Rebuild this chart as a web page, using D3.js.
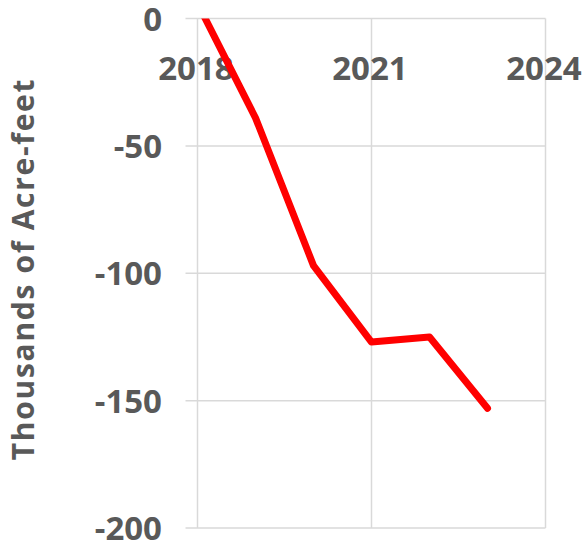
<!DOCTYPE html>
<html>
<head>
<meta charset="utf-8">
<script src="https://cdn.jsdelivr.net/npm/d3@7"></script>
<style>
  html, body { margin: 0; padding: 0; background: #fff; }
  svg { display: block; }
  text { font-family: "Open Sans", "Noto Sans", sans-serif; font-weight: 700; fill: #595959; }
</style>
</head>
<body>
<svg id="chart" width="585" height="546"></svg>
<script>
// Cumulative storage change by year (thousands of acre-feet)
const years = [2018, 2019, 2020, 2021, 2022, 2023];
const storageChange = [6, -39, -97, -127, -125, -153];
const xTicks = [2018, 2021, 2024];
const yTicks = [0, -50, -100, -150, -200];
const yTitle = "Thousands of Acre-feet";

const svg = d3.select("#chart");
const plot = { left: 197.5, right: 545.5, top: 18.5, bottom: 528 };

const x = d3.scaleLinear().domain([2018, 2024]).range([plot.left, plot.right]);
const y = d3.scaleLinear().domain([0, -200]).range([plot.top, plot.bottom]);

const grid = "#d9d9d9";

// Horizontal gridlines with small ticks reaching left of the value axis
svg.append("g").selectAll("line").data(yTicks).join("line")
  .attr("x1", plot.left - 12).attr("x2", plot.right)
  .attr("y1", d => y(d)).attr("y2", d => y(d))
  .attr("stroke", grid).attr("stroke-width", 1.5);

// Vertical gridlines (2018 doubles as the value axis)
svg.append("g").selectAll("line").data(xTicks).join("line")
  .attr("x1", d => x(d)).attr("x2", d => x(d))
  .attr("y1", plot.top).attr("y2", plot.bottom)
  .attr("stroke", grid).attr("stroke-width", 1.5);

// Value axis labels
svg.append("g").selectAll("text").data(yTicks).join("text")
  .attr("x", 162).attr("y", d => y(d) + 12)
  .attr("text-anchor", "end")
  .attr("font-size", 33)
  .text(d => d3.format("d")(d).replace("−", "-"));

// Year labels sit just below the zero line
svg.append("g").selectAll("text").data(xTicks).join("text")
  .attr("x", d => x(d) - 1.5).attr("y", y(0) + 61.5)
  .attr("text-anchor", "middle")
  .attr("font-size", 33)
  .text(d => d);

// Axis title
svg.append("text")
  .attr("transform", `translate(34, ${(80 + 458) / 2}) rotate(-90)`)
  .attr("text-anchor", "middle")
  .attr("font-size", 30)
  .attr("letter-spacing", 1.7)
  .text(yTitle);

// Clip the series to the plot area
svg.append("clipPath").attr("id", "plot-clip")
  .append("rect")
  .attr("x", plot.left - 10).attr("y", plot.top)
  .attr("width", plot.right - plot.left + 20).attr("height", plot.bottom - plot.top + 10);

const line = d3.line()
  .x((d, i) => x(years[i]))
  .y(d => y(d));

svg.append("path")
  .datum(storageChange)
  .attr("clip-path", "url(#plot-clip)")
  .attr("d", line)
  .attr("fill", "none")
  .attr("stroke", "#ff0000")
  .attr("stroke-width", 7)
  .attr("stroke-linecap", "round")
  .attr("stroke-linejoin", "round");
</script>
</body>
</html>
